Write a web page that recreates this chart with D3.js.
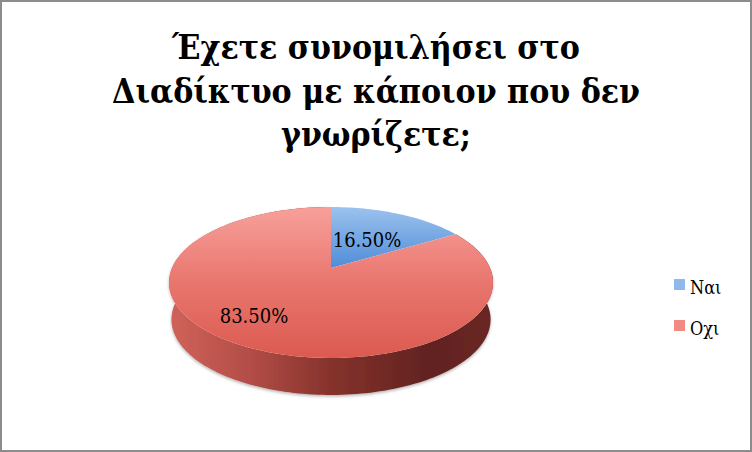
<!DOCTYPE html>
<html>
<head>
<meta charset="utf-8">
<script src="https://cdn.jsdelivr.net/npm/d3@7"></script>
<style>
  html, body { margin: 0; padding: 0; background: #fff; }
  svg { display: block; }
  text { font-family: "DejaVu Serif Condensed", "Liberation Serif", serif; fill: #000; }
</style>
</head>
<body>
<svg id="chart" width="752" height="452"></svg>
<script>
const categories = ['Ναι', 'Οχι'];
const values = [16.5, 83.5];
const titleLines = ['Έχετε συνομιλήσει στο', 'Διαδίκτυο με κάποιον που δεν', 'γνωρίζετε;'];

const width = 752;
const height = 452;
const svg = d3.select('#chart');

// the top face is a tilted disc, so the pie centre sits above the middle of the ellipse
const cx = 331, cy = 268;
const tilt = -0.192, radiusX = 159, radiusY = 72.7;
const depth = 37;

function project(angle) {
  const u = Math.sin(angle), v = -Math.cos(angle), w = 1 + tilt * v;
  return [cx + radiusX * u / w, cy + radiusY * v / w];
}
function rim(a0, a1) {
  const n = Math.max(2, Math.ceil((a1 - a0) * 40));
  return d3.range(n + 1).map(i => project(a0 + (a1 - a0) * i / n));
}

const defs = svg.append('defs');
function gradient(id, x1, y1, x2, y2, stops) {
  const g = defs.append('linearGradient').attr('id', id)
    .attr('gradientUnits', 'userSpaceOnUse')
    .attr('x1', x1).attr('y1', y1).attr('x2', x2).attr('y2', y2);
  stops.forEach(s => g.append('stop').attr('offset', s[0]).attr('stop-color', s[1]));
}
gradient('top0', 0, 207, 0, 270, [[0, '#9cc2ee'], [1, '#4d8bd8']]);
gradient('top1', 0, 207, 0, 358, [[0, '#f8a09b'], [0.5, '#e8766e'], [1, '#dc5a50']]);
gradient('side1', 170, 0, 492, 0, [[0, '#d0625a'], [0.25, '#b24d46'], [0.5, '#85322c'], [0.8, '#622320'], [1, '#6a2622']]);
gradient('key0', 0, 279, 0, 290, [[0, '#8fb9ea'], [1, '#4a84cc']]);
gradient('key1', 0, 320, 0, 331, [[0, '#f28a84'], [1, '#c24a44']]);

const shadow = defs.append('filter').attr('id', 'soft')
  .attr('x', '-5%').attr('y', '-5%').attr('width', '110%').attr('height', '115%');
shadow.append('feDropShadow')
  .attr('dx', 0).attr('dy', 1.5).attr('stdDeviation', 1.5)
  .attr('flood-color', '#000').attr('flood-opacity', 0.3);

svg.append('rect')
  .attr('x', 1).attr('y', 1)
  .attr('width', width - 2).attr('height', height - 2)
  .attr('fill', '#fff').attr('stroke', '#8c8c8c').attr('stroke-width', 2);

const slices = d3.pie().sort(null)(values);
const line = d3.line();

// side wall first, the top faces then cover the part of it that is out of sight
const wall = rim(slices[1].startAngle, slices[1].endAngle);
const wallBottom = wall.map(p => [cx + (p[0] - cx) * 0.985, p[1] + depth]).reverse();
svg.append('path')
  .attr('d', line(wall.concat(wallBottom)) + 'Z')
  .attr('fill', 'url(#side1)')
  .attr('filter', 'url(#soft)');

svg.selectAll('path.slice')
  .data(slices)
  .join('path')
  .attr('class', 'slice')
  .attr('fill', (d, i) => `url(#top${i})`)
  .attr('d', d => line([[cx, cy]].concat(rim(d.startAngle, d.endAngle))) + 'Z');

svg.selectAll('text.title')
  .data(titleLines)
  .join('text')
  .attr('class', 'title')
  .attr('x', 376)
  .attr('y', (d, i) => 59 + i * 43.5)
  .attr('text-anchor', 'middle')
  .attr('font-weight', 'bold')
  .attr('font-size', 33.5)
  .text(d => d);

const pct = d3.format('.2%');
const labelPos = [[367, 247], [254, 323]];
svg.selectAll('text.value')
  .data(values)
  .join('text')
  .attr('class', 'value')
  .attr('x', (d, i) => labelPos[i][0])
  .attr('y', (d, i) => labelPos[i][1])
  .attr('text-anchor', 'middle')
  .attr('font-size', 20)
  .text(d => pct(d / 100));

const legendY = d3.scalePoint().domain(categories).range([279, 320]);
const legend = svg.selectAll('g.key')
  .data(categories)
  .join('g')
  .attr('class', 'key')
  .attr('transform', d => `translate(674,${legendY(d)})`);
legend.append('rect')
  .attr('width', 11).attr('height', 11)
  .attr('fill', (d, i) => `url(#key${i})`);
legend.append('text')
  .attr('x', 16).attr('y', 15)
  .attr('font-size', 18)
  .text(d => d);
</script>
</body>
</html>
